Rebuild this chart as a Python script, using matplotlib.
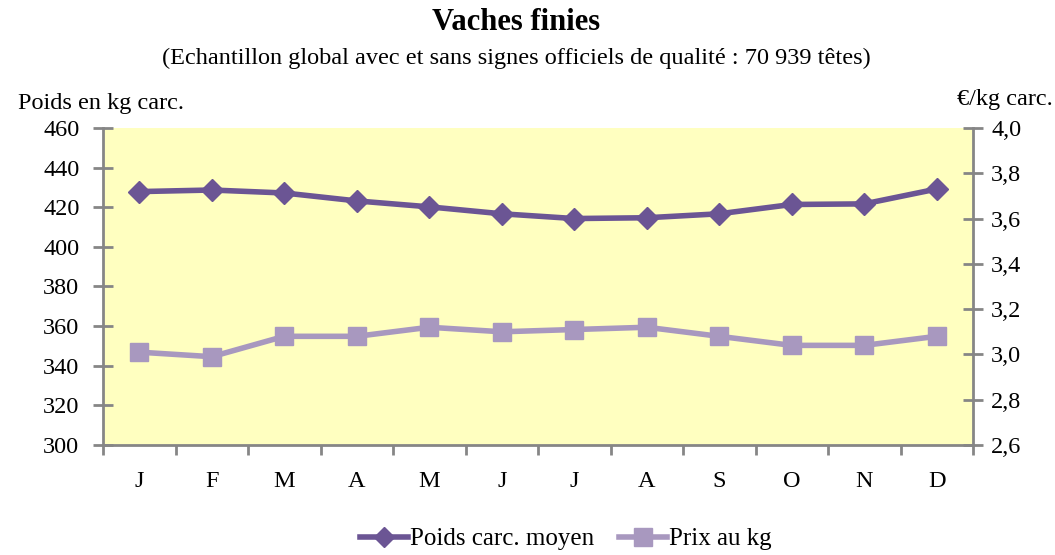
import matplotlib
matplotlib.use("Agg")
import matplotlib.pyplot as plt
from matplotlib.lines import Line2D

months = ["J", "F", "M", "A", "M", "J", "J", "A", "S", "O", "N", "D"]
poids = [427.9, 428.7, 427.2, 423.2, 420.2, 416.7, 414.3, 414.7, 416.7, 421.4, 421.7, 429.2]
prix = [3.01, 2.99, 3.08, 3.08, 3.12, 3.10, 3.11, 3.12, 3.08, 3.04, 3.04, 3.08]
left_ticks = [300, 320, 340, 360, 380, 400, 420, 440, 460]
right_ticks = [2.6, 2.8, 3.0, 3.2, 3.4, 3.6, 3.8, 4.0]

plt.rcParams["font.family"] = ["Liberation Serif", "DejaVu Serif"]

c_poids = "#6b5594"
c_prix = "#a898bf"
c_axis = "#868686"
bg = "#ffffc0"
fs = 17.5

fig = plt.figure(figsize=(10.55, 5.55), dpi=100)
ax = fig.add_axes([103 / 1055, 1 - 445 / 555, 870 / 1055, (445 - 128) / 555])
ax.set_facecolor(bg)
ax2 = ax.twinx()

x = list(range(len(months)))
ax.plot(x, poids, color=c_poids, lw=4, marker="D", ms=11, mec=c_poids, zorder=3)
ax2.plot(x, prix, color=c_prix, lw=4, marker="s", ms=13, mec=c_prix, zorder=3)

ax.set_xlim(-0.5, len(months) - 0.5)
ax.set_ylim(300, 460)
ax2.set_ylim(2.6, 4.0)
ax.set_yticks(left_ticks)
ax.set_yticklabels([str(v) for v in left_ticks])
ax2.set_yticks(right_ticks)
ax2.set_yticklabels([f"{v:.1f}".replace(".", ",") for v in right_ticks])

# Month labels centred, tick marks on category boundaries
ax.set_xticks(x)
ax.set_xticklabels(months)
ax.tick_params(axis="x", which="major", length=0, pad=19, labelsize=fs)
ax.set_xticks([i - 0.5 for i in range(len(months) + 1)], minor=True)
ax.tick_params(axis="x", which="minor", length=7, width=2, color=c_axis, direction="out")

ax.tick_params(axis="y", length=14, width=2, color=c_axis, direction="inout", labelsize=fs, pad=10)
ax2.tick_params(axis="y", length=14, width=2, color=c_axis, direction="inout", labelsize=fs, pad=6)

for a in (ax, ax2):
    a.spines["top"].set_visible(False)
    for s in ("left", "right", "bottom"):
        a.spines[s].set_color(c_axis)
        a.spines[s].set_linewidth(2)
ax2.spines["left"].set_visible(False)
ax.spines["right"].set_visible(False)
ax2.spines["bottom"].set_visible(False)

fig.text(516 / 1055, 1 - 23 / 555, "Vaches finies", ha="center", va="center",
         fontsize=22, fontweight="bold")
fig.text(516 / 1055, 1 - 58 / 555,
         "(Echantillon global avec et sans signes officiels de qualité : 70 939 têtes)",
         ha="center", va="center", fontsize=fs)
fig.text(18 / 1055, 1 - 103 / 555, "Poids en kg carc.", ha="left", va="center", fontsize=fs)
fig.text(1053 / 1055, 1 - 100 / 555, "€/kg carc.", ha="right", va="center", fontsize=fs)

handles = [
    Line2D([], [], color=c_poids, lw=4, marker="D", ms=10.5, mec=c_poids),
    Line2D([], [], color=c_prix, lw=4, marker="s", ms=12.5, mec=c_prix),
]
fig.legend(handles, ["Poids carc. moyen", "Prix au kg"], loc="lower center",
           bbox_to_anchor=(566 / 1055, -8 / 555), ncol=2, frameon=False,
           fontsize=18, handlelength=1.9, handletextpad=0.1, columnspacing=1.0,
           borderpad=0)

fig.savefig("out.png", dpi=100)
